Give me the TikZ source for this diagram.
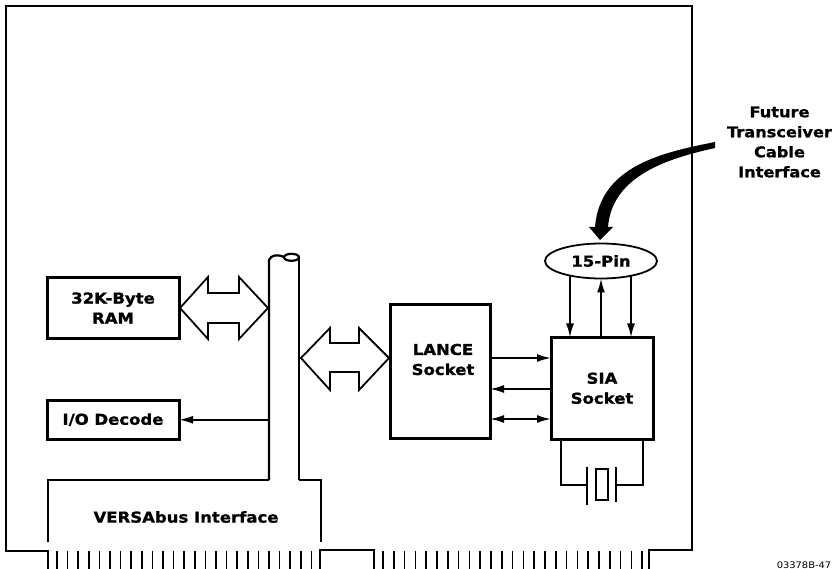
\documentclass[tikz,border=0pt]{standalone}
\usepackage{fontspec}
\usepackage{tikz}
\usetikzlibrary{positioning, arrows.meta, shapes.geometric, calc}
\newfontfamily\labelfont[FakeStretch=1.1,BoldFeatures={FakeBold=1.2}]{DejaVu Sans}
\tikzset{
  blockbox/.style={draw, line width=3pt, inner sep=0pt, outer sep=0pt, align=center, font=\labelfont\fontsize{15}{20}\selectfont\bfseries},
  plainlabel/.style={inner sep=0pt, align=center, font=\labelfont\fontsize{15}{20}\selectfont\bfseries},
  signal/.style={line width=1.8pt, -{Latex[length=14pt,width=8pt]}},
  biarrow/.style={line width=1.8pt, {Latex[length=14pt,width=8pt]}-{Latex[length=14pt,width=8pt]}},
  thinline/.style={line width=1.6pt},
  boardline/.style={line width=2.2pt},
  widearrow/.style={line width=1.8pt, fill=white, miter limit=10},
  finger/.style={line width=1.5pt}
}
\begin{document}
\begin{tikzpicture}[x=1pt, y=-1pt]
\useasboundingbox (0,0) rectangle (833,569);
% board outline
\draw[boardline] (48,569) -- (48,551) -- (6,551) -- (6,6) -- (692,6) -- (692,550) -- (649,550) -- (649,569);
\draw[boardline] (320,569) -- (320,550) -- (374,550) -- (374,569);
% blocks
\node[blockbox, minimum width=132pt, minimum height=61pt] (ram) at (113,308) {32K-Byte\\RAM};
\node[blockbox, minimum width=132pt, minimum height=38.5pt] (decode) at (113,419.75) {I/O Decode};
\node[blockbox, minimum width=100pt, minimum height=133.5pt] (lance) at (440,371.75) {};
\node[plainlabel] (lancetext) at (443,359.5) {LANCE\\Socket};
\node[blockbox, minimum width=102pt, minimum height=101.5pt] (sia) at (602,388.25) {SIA\\Socket};
\node[draw, ellipse, line width=1.8pt, outer sep=0pt, minimum width=112pt, minimum height=35pt, inner sep=0pt, font=\labelfont\fontsize{15}{20}\selectfont\bfseries] (pin) at (601,261) {15-Pin};
% bus
\draw[boardline] (269,480) -- (269,260) .. controls (271,255) and (277,254) .. (284,257);
\draw[boardline] (291.5,257.3) ellipse (7.5pt and 3.5pt);
\draw[boardline] (299,257) -- (299,480);
\draw[boardline] (48,542) -- (48,480) -- (269,480);
\draw[boardline] (299,480) -- (321,480) -- (321,542);
\node[plainlabel] (versa) at (186,517) {VERSAbus Interface};
% wide arrows
\draw[widearrow] (180,308) -- (208,277) -- (208,293) -- (239,293) -- (239,277) -- (268,308) -- (239,339) -- (239,323) -- (208,323) -- (208,339) -- cycle;
\draw[widearrow] (301,358) -- (330,328) -- (330,343) -- (359,343) -- (359,328) -- (389,358) -- (359,390) -- (359,372) -- (330,372) -- (330,390) -- cycle;
\draw[signal] (269,419.75) -- (decode.east);
% SIA links
\coordinate (siaA) at (sia.west |- 0,358);
\coordinate (siaB) at (sia.west |- 0,389);
\coordinate (siaC) at (sia.west |- 0,419);
\draw[signal] (lance.east |- siaA) -- (siaA);
\draw[signal] (siaB) -- (lance.east |- siaB);
\draw[biarrow] (lance.east |- siaC) -- (siaC);
% pin links
\coordinate (pinA) at (570,276);
\coordinate (pinC) at (631,276);
\draw[signal] (pinA) -- (sia.north -| pinA);
\draw[signal] (sia.north -| pin.south) -- (pin.south);
\draw[signal] (pinC) -- (sia.north -| pinC);
% crystal
\coordinate (xtalL) at (587,485);
\coordinate (xtalR) at (616,485);
\draw[thinline] (sia.south -| 561,0) -- (561,485) -- (xtalL);
\draw[thinline] (sia.south -| 643,0) -- (643,485) -- (xtalR);
\draw[thinline] (587,467) -- (587,505);
\draw[thinline] (616,467) -- (616,502);
\draw[line width=2.6pt] (596,469) rectangle (608,500);
% big arrow
\fill (715,142) .. controls (665,152) and (600,165) .. (595,227) -- (589,227) -- (600,240) -- (613,227) -- (608,227) .. controls (612,175) and (670,158) .. (715,148) -- cycle;
\node[plainlabel, font=\labelfont\fontsize{14.7}{20}\selectfont\bfseries] (future) at (779.5,142) {Future\\Transceiver\\Cable\\Interface};
\node[inner sep=0pt, font=\labelfont\fontsize{9}{11}\selectfont] (partno) at (804,565) {03378B-47};
% edge connector fingers
\foreach \i in {0,...,24} \draw[finger] ({57+\i*10.6},551) -- ({57+\i*10.6},569);
\foreach \i in {0,...,24} \draw[finger] ({383+\i*10.8},551) -- ({383+\i*10.8},569);
\end{tikzpicture}
\end{document}
